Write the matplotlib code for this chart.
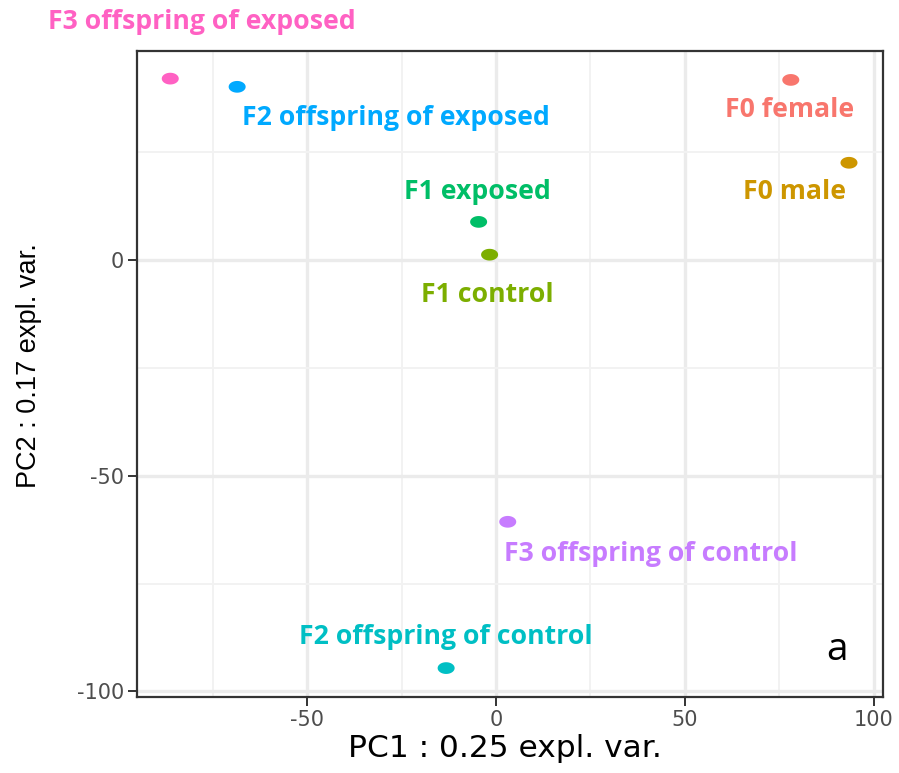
import numpy as np
import matplotlib
matplotlib.use("Agg")
import matplotlib.pyplot as plt
from matplotlib.path import Path
from matplotlib.ticker import MultipleLocator

plt.rcParams["axes.unicode_minus"] = False

# ---- data ----
groups = ["F0 female", "F0 male", "F1 control", "F1 exposed",
          "F2 offspring of control", "F2 offspring of exposed",
          "F3 offspring of control", "F3 offspring of exposed"]
pc1 = [78.0, 93.4, -1.7, -4.6, -13.2, -68.5, 3.1, -86.2]
pc2 = [41.7, 22.5, 1.2, 8.8, -94.6, 40.1, -60.7, 42.0]
colors = ["#F8766D", "#CD9600", "#7CAE00", "#00BE67",
          "#00BFC4", "#00A9FF", "#C77CFF", "#FF61C3"]
# label centre positions (data coords)
label_x = [77.8, 79.1, -2.4, -5.0, -13.2, -26.5, 41.0, -77.8]
label_y = [34.7, 15.7, -8.1, 15.7, -87.4, 32.9, -68.2, 55.1]

xlabel = "PC1 : 0.25 expl. var."
ylabel = "PC2 : 0.17 expl. var."

fig = plt.figure(figsize=(8.99, 7.73), dpi=100)
ax = fig.add_axes([137/899, 1-697/773, (883-137)/899, (697-51)/773])

# ellipse marker (stretched horizontally like the reference)
t = np.linspace(0, 2*np.pi, 60)
ell = Path(np.column_stack([1.45*np.cos(t), np.sin(t)]), closed=True)

ax.scatter(pc1, pc2, c=colors, marker=ell, s=150, edgecolors="none", zorder=3)

for g, lx, ly, c in zip(groups, label_x, label_y, colors):
    ax.text(lx, ly, g, color=c, ha="center", va="center", fontsize=19.2,
            fontweight="bold", family=["Open Sans", "DejaVu Sans"], clip_on=False)

ax.text(90.2, -90.4, "a", color="black", ha="center", va="center",
        fontsize=28, family=["Open Sans", "DejaVu Sans"])

ax.set_xlim(-95, 102.4)
ax.set_ylim(-101.3, 48.4)
ax.xaxis.set_major_locator(MultipleLocator(50))
ax.yaxis.set_major_locator(MultipleLocator(50))
ax.xaxis.set_minor_locator(MultipleLocator(25))
ax.yaxis.set_minor_locator(MultipleLocator(25))
ax.grid(which="major", color="#EBEBEB", linewidth=2.4, zorder=0)
ax.grid(which="minor", color="#F2F2F2", linewidth=1.4, zorder=0)
ax.set_axisbelow(True)
ax.tick_params(which="minor", length=0)
ax.tick_params(which="major", length=6.5, width=1.4, color="#333333",
               labelcolor="#4D4D4D", labelsize=15, pad=3)
for lab in ax.get_xticklabels() + ax.get_yticklabels():
    lab.set_family("DejaVu Sans")
for sp in ax.spines.values():
    sp.set_color("#333333")
    sp.set_linewidth(1.6)

fig.text(505/899, 1-757/773, xlabel, ha="center", va="baseline",
         fontsize=22.5, family="DejaVu Sans", color="black")
fig.text(29/899, 1-366/773, ylabel, ha="center", va="center", rotation=90,
         fontsize=19.5, family="Liberation Sans", color="black")

fig.savefig("out.png", dpi=100)
